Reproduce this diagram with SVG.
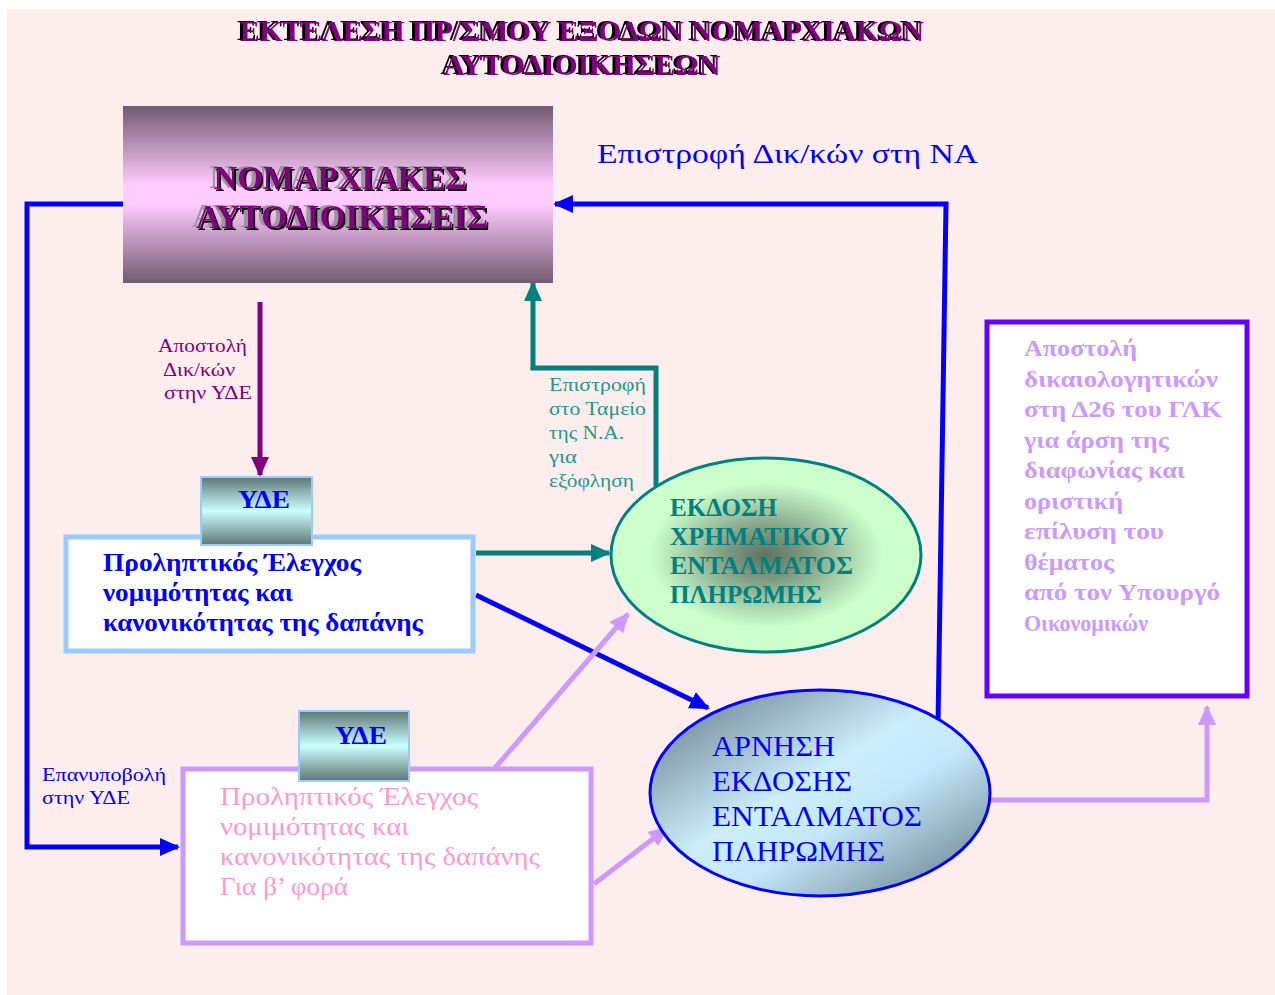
<svg xmlns="http://www.w3.org/2000/svg" width="1275" height="995" viewBox="0 0 1275 995">
<defs>
<style>
.serif{font-family:"Liberation Serif","DejaVu Serif",serif}
.ttl{font-family:"Liberation Serif","DejaVu Serif",serif;font-weight:bold;font-size:30px;fill:#800080}
.big{font-family:"Liberation Serif","DejaVu Serif",serif;font-weight:bold;font-size:33px;fill:#800080}
.yde{font-family:"Liberation Serif","DejaVu Serif",serif;font-weight:bold;font-size:25px;fill:#0000ff}
.b1{font-family:"Liberation Serif","DejaVu Serif",serif;font-weight:bold;font-size:25px;fill:#0000ff}
.b2{font-family:"Liberation Serif","DejaVu Serif",serif;font-size:25px;fill:#ff99cc}
.b3{font-family:"Liberation Serif","DejaVu Serif",serif;font-size:23px;fill:#cc99ff;font-weight:bold}
.lbl{font-family:"Liberation Serif","DejaVu Serif",serif;font-size:18px}
.ell1{font-family:"Liberation Serif","DejaVu Serif",serif;font-weight:bold;font-size:25px;fill:#008080}
.ell2{font-family:"Liberation Serif","DejaVu Serif",serif;font-size:29px;fill:#0000ff}
.c{fill:none;stroke-width:5}
</style>
<filter id="shTitle" x="-5%" y="-20%" width="110%" height="140%">
<feFlood flood-color="#000000" result="k"/>
<feComposite in="k" in2="SourceAlpha" operator="in" result="ks"/>
<feOffset in="ks" dx="-3" dy="-1" result="ko"/>
<feMerge><feMergeNode in="ko"/><feMergeNode in="SourceGraphic"/></feMerge>
</filter>
<filter id="shBig" x="-5%" y="-20%" width="110%" height="140%">
<feFlood flood-color="#999999" result="g"/>
<feComposite in="g" in2="SourceAlpha" operator="in" result="gs"/>
<feOffset in="gs" dx="-4" dy="-1" result="go"/>
<feFlood flood-color="#000000" result="k"/>
<feComposite in="k" in2="SourceAlpha" operator="in" result="ks"/>
<feOffset in="ks" dx="2" dy="2" result="ko"/>
<feMerge><feMergeNode in="go"/><feMergeNode in="ko"/><feMergeNode in="SourceGraphic"/></feMerge>
</filter>
<linearGradient id="gNom" x1="0" y1="0" x2="0" y2="1">
<stop offset="0" stop-color="#735a72"/>
<stop offset="0.45" stop-color="#ffccff"/>
<stop offset="0.55" stop-color="#ffccff"/>
<stop offset="1" stop-color="#735a72"/>
</linearGradient>
<linearGradient id="gYde" x1="0" y1="0" x2="0" y2="1">
<stop offset="0" stop-color="#5e7676"/>
<stop offset="0.5" stop-color="#ccffff"/>
<stop offset="1" stop-color="#5e7676"/>
</linearGradient>
<radialGradient id="gGreen" cx="0.5" cy="0.5" r="0.5">
<stop offset="0" stop-color="#5d745f"/>
<stop offset="0.25" stop-color="#7d9a80"/>
<stop offset="0.75" stop-color="#ccffcc"/>
<stop offset="1" stop-color="#ccffcc"/>
</radialGradient>
<linearGradient id="gBlue" x1="0" y1="0" x2="1" y2="1">
<stop offset="0" stop-color="#5f7480"/>
<stop offset="0.45" stop-color="#cceeff"/>
<stop offset="0.6" stop-color="#c4e8fb"/>
<stop offset="1" stop-color="#5f7480"/>
</linearGradient>
<marker id="aBlue" markerUnits="userSpaceOnUse" markerWidth="20" markerHeight="18" refX="18" refY="9" orient="auto"><path d="M0,0 L20,9 L0,18 z" fill="#0000ff"/></marker>
<marker id="aPurple" markerUnits="userSpaceOnUse" markerWidth="20" markerHeight="18" refX="18" refY="9" orient="auto"><path d="M0,0 L20,9 L0,18 z" fill="#800080"/></marker>
<marker id="aTeal" markerUnits="userSpaceOnUse" markerWidth="20" markerHeight="18" refX="18" refY="9" orient="auto"><path d="M0,0 L20,9 L0,18 z" fill="#008080"/></marker>
<marker id="aLilac" markerUnits="userSpaceOnUse" markerWidth="20" markerHeight="18" refX="18" refY="9" orient="auto"><path d="M0,0 L20,9 L0,18 z" fill="#cc99ff"/></marker>
</defs>
<rect x="7" y="9" width="1268" height="986" fill="#fdeded"/>

<g id="title" filter="url(#shTitle)">
<text class="ttl" x="582" y="41" text-anchor="middle" textLength="684" lengthAdjust="spacingAndGlyphs">ΕΚΤΕΛΕΣΗ ΠΡ/ΣΜΟΥ ΕΞΟΔΩΝ ΝΟΜΑΡΧΙΑΚΩΝ</text>
<text class="ttl" x="582" y="75" text-anchor="middle" textLength="277" lengthAdjust="spacingAndGlyphs">ΑΥΤΟΔΙΟΙΚΗΣΕΩΝ</text>
</g>

<g id="connectors">
<polyline class="c" points="123,204 27,204 27,847 178,847" stroke="#0000ff" marker-end="url(#aBlue)"/>
<polyline class="c" points="938,725 946,204 555,204" stroke="#0000ff" marker-end="url(#aBlue)"/>
<line class="c" x1="260" y1="302" x2="260" y2="475" stroke="#800080" marker-end="url(#aPurple)"/>
<polyline class="c" points="656,486 656,368 533,368 533,283" stroke="#008080" marker-end="url(#aTeal)"/>
<line class="c" x1="476" y1="553" x2="609" y2="553" stroke="#008080" marker-end="url(#aTeal)"/>
<line class="c" x1="476" y1="595" x2="708" y2="708" stroke="#0000ff" marker-end="url(#aBlue)"/>
<line class="c" x1="495" y1="768" x2="628" y2="614" stroke="#cc99ff" marker-end="url(#aLilac)"/>
<line class="c" x1="594" y1="884" x2="667" y2="828" stroke="#cc99ff" marker-end="url(#aLilac)"/>
<polyline class="c" points="990,800 1207,800 1207,707" stroke="#cc99ff" marker-end="url(#aLilac)"/>
<text class="serif" x="597" y="163" font-size="28" fill="#0000ff" textLength="381" lengthAdjust="spacingAndGlyphs">Επιστροφή Δικ/κών στη ΝΑ</text>
<g class="lbl" fill="#800080">
<text x="158" y="352" textLength="89" lengthAdjust="spacingAndGlyphs">Αποστολή</text>
<text x="163" y="376" textLength="72" lengthAdjust="spacingAndGlyphs">Δικ/κών</text>
<text x="164" y="399" textLength="88" lengthAdjust="spacingAndGlyphs">στην ΥΔΕ</text>
</g>
<g class="lbl" fill="#229988">
<text x="549" y="391" textLength="97" lengthAdjust="spacingAndGlyphs">Επιστροφή</text>
<text x="549" y="415" textLength="97" lengthAdjust="spacingAndGlyphs">στο Ταμείο</text>
<text x="549" y="439" textLength="75" lengthAdjust="spacingAndGlyphs">της Ν.Α.</text>
<text x="549" y="463" textLength="28" lengthAdjust="spacingAndGlyphs">για</text>
<text x="549" y="487" textLength="85" lengthAdjust="spacingAndGlyphs">εξόφληση</text>
</g>
<g class="lbl" fill="#0000ff">
<text x="42" y="781" textLength="124" lengthAdjust="spacingAndGlyphs">Επανυποβολή</text>
<text x="42" y="804" textLength="88" lengthAdjust="spacingAndGlyphs">στην ΥΔΕ</text>
</g>
</g>

<g id="nomarxiakes">
<rect x="123" y="106" width="430" height="177" fill="url(#gNom)"/>
<g filter="url(#shBig)">
<text class="big" x="340" y="189" text-anchor="middle" textLength="253" lengthAdjust="spacingAndGlyphs">ΝΟΜΑΡΧΙΑΚΕΣ</text>
<text class="big" x="342" y="228" text-anchor="middle" textLength="292" lengthAdjust="spacingAndGlyphs">ΑΥΤΟΔΙΟΙΚΗΣΕΙΣ</text>
</g>
</g>

<g id="box1">
<rect x="66" y="537" width="407" height="114" fill="#ffffff" stroke="#99ccff" stroke-width="5"/>
<g class="b1">
<text x="103" y="571" textLength="258" lengthAdjust="spacingAndGlyphs">Προληπτικός Έλεγχος</text>
<text x="103" y="601" textLength="190" lengthAdjust="spacingAndGlyphs">νομιμότητας και</text>
<text x="103" y="631" textLength="320" lengthAdjust="spacingAndGlyphs">κανονικότητας της δαπάνης</text>
</g>
</g>
<g id="yde1">
<rect x="201" y="477" width="111" height="68" fill="url(#gYde)" stroke="#99ccff" stroke-width="2"/>
<text class="yde" x="238" y="508" textLength="52" lengthAdjust="spacingAndGlyphs">ΥΔΕ</text>
</g>

<g id="box2">
<rect x="183" y="769" width="408" height="174" fill="#ffffff" stroke="#cc99ff" stroke-width="5"/>
<g class="b2">
<text x="220" y="805" textLength="258" lengthAdjust="spacingAndGlyphs">Προληπτικός Έλεγχος</text>
<text x="220" y="835" textLength="189" lengthAdjust="spacingAndGlyphs">νομιμότητας και</text>
<text x="220" y="865" textLength="320" lengthAdjust="spacingAndGlyphs">κανονικότητας της δαπάνης</text>
<text x="220" y="895" textLength="128" lengthAdjust="spacingAndGlyphs">Για β’ φορά</text>
</g>
</g>
<g id="yde2">
<rect x="299" y="711" width="110" height="70" fill="url(#gYde)" stroke="#99ccff" stroke-width="2"/>
<text class="yde" x="335" y="744" textLength="52" lengthAdjust="spacingAndGlyphs">ΥΔΕ</text>
</g>

<g id="ekdosi">
<ellipse cx="766" cy="555" rx="155" ry="97" fill="url(#gGreen)" stroke="#008080" stroke-width="3"/>
<g class="ell1">
<text x="670" y="516" textLength="107" lengthAdjust="spacingAndGlyphs">ΕΚΔΟΣΗ</text>
<text x="670" y="545" textLength="178" lengthAdjust="spacingAndGlyphs">ΧΡΗΜΑΤΙΚΟΥ</text>
<text x="670" y="574" textLength="183" lengthAdjust="spacingAndGlyphs">ΕΝΤΑΛΜΑΤΟΣ</text>
<text x="670" y="603" textLength="152" lengthAdjust="spacingAndGlyphs">ΠΛΗΡΩΜΗΣ</text>
</g>
</g>

<g id="arnisi">
<ellipse cx="820" cy="793" rx="170" ry="103" fill="url(#gBlue)" stroke="#0000ff" stroke-width="3"/>
<g class="ell2">
<text x="712" y="756" textLength="123" lengthAdjust="spacingAndGlyphs">ΑΡΝΗΣΗ</text>
<text x="712" y="791" textLength="140" lengthAdjust="spacingAndGlyphs">ΕΚΔΟΣΗΣ</text>
<text x="712" y="826" textLength="210" lengthAdjust="spacingAndGlyphs">ΕΝΤΑΛΜΑΤΟΣ</text>
<text x="712" y="861" textLength="173" lengthAdjust="spacingAndGlyphs">ΠΛΗΡΩΜΗΣ</text>
</g>
</g>

<g id="box3">
<rect x="987" y="322" width="260" height="374" fill="#ffffff" stroke="#6600ff" stroke-width="5"/>
<g class="b3">
<text x="1024" y="356" textLength="113" lengthAdjust="spacingAndGlyphs">Αποστολή</text>
<text x="1024" y="387" textLength="194" lengthAdjust="spacingAndGlyphs">δικαιολογητικών</text>
<text x="1024" y="417" textLength="198" lengthAdjust="spacingAndGlyphs">στη Δ26 του ΓΛΚ</text>
<text x="1024" y="448" textLength="145" lengthAdjust="spacingAndGlyphs">για άρση της</text>
<text x="1024" y="478" textLength="161" lengthAdjust="spacingAndGlyphs">διαφωνίας και</text>
<text x="1024" y="509" textLength="99" lengthAdjust="spacingAndGlyphs">οριστική</text>
<text x="1024" y="539" textLength="140" lengthAdjust="spacingAndGlyphs">επίλυση του</text>
<text x="1024" y="570" textLength="90" lengthAdjust="spacingAndGlyphs">θέματος</text>
<text x="1024" y="600" textLength="196" lengthAdjust="spacingAndGlyphs">από τον Υπουργό</text>
<text x="1024" y="631" textLength="124" lengthAdjust="spacingAndGlyphs">Οικονομικών</text>
</g>
</g>
</svg>
